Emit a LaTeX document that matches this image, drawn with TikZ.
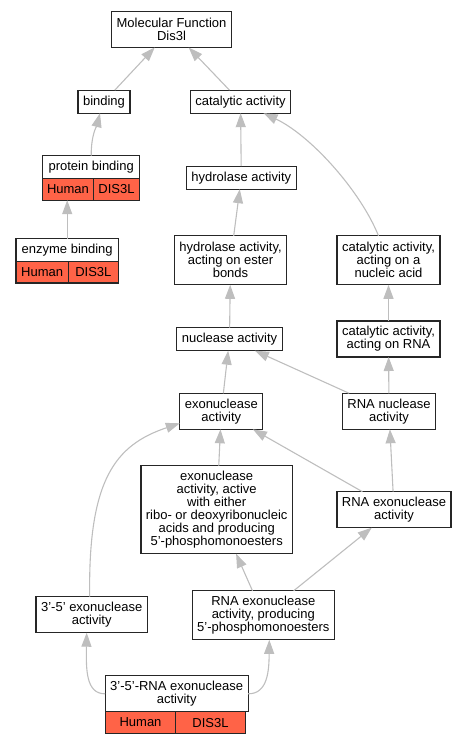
\documentclass[tikz,border=0pt]{standalone}
\usepackage{fontspec}
\setmainfont{Liberation Sans}
\usetikzlibrary{arrows.meta}
\definecolor{annot}{RGB}{255,99,71}
\definecolor{linkgray}{RGB}{190,190,190}

\begin{document}
\begin{tikzpicture}[x=1pt,y=-1pt,
  term/.style={draw=black!85,line width=1.3pt,fill=white,align=center,
    font=\fontsize{13}{13}\selectfont,inner xsep=5pt,inner ysep=0pt,outer sep=0pt},
  lines/.style={minimum height=#1*13pt+10pt},
  cell/.style={draw=black!85,line width=1.3pt,fill=annot,anchor=north west,
    font=\fontsize{13}{13}\selectfont,inner sep=0pt,outer sep=0pt,minimum height=21.5pt},
  link/.style={color=linkgray,line width=1.1pt,-{Triangle[length=14pt,width=10pt]}}]
\useasboundingbox (0,0) rectangle (465,744);
\node[term,lines=2] (mf) at (171.5,29.5) {Molecular Function\\Dis3l};
\node[term,lines=1] (bd) at (104,101.7) {binding};
\node[term,lines=1] (ca) at (240.5,101.7) {catalytic activity};
%
\node[term,lines=1,minimum width=97pt] (pb) at (91.2,167.2) {protein binding};
\node[cell,minimum width=50.6pt] (pbh) at (pb.south west) {Human};
\node[cell,minimum width=46.4pt] (pbd) at (pbh.north east) {DIS3L};
\node[term,lines=1,minimum width=102.3pt] (eb) at (67.2,250) {enzyme binding};
\node[cell,minimum width=52.3pt] (ebh) at (eb.south west) {Human};
\node[cell,minimum width=50pt] (ebd) at (ebh.north east) {DIS3L};
%
\node[term,lines=1] (hy) at (241.3,177.7) {hydrolase activity};
\node[term,lines=3] (he) at (230.5,260.3) {hydrolase activity,\\acting on ester\\bonds};
\node[term,lines=3] (cna) at (388.5,260.3) {catalytic activity,\\acting on a\\nucleic acid};
\node[term,lines=1] (nu) at (229.5,339.2) {nuclease activity};
\node[term,lines=2] (crna) at (388.5,339) {catalytic activity,\\acting on RNA};
%%
\node[term,lines=2] (ex) at (221.3,411.3) {exonuclease\\activity};
\node[term,lines=2] (rnu) at (389,411.3) {RNA nuclease\\activity};
\node[term,lines=6] (exa) at (216.7,509.7) {exonuclease\\activity, active\\with either\\ribo- or deoxyribonucleic\\acids and producing\\5'-phosphomonoesters};
\node[term,lines=2] (rx) at (394,509.7) {RNA exonuclease\\activity};
\node[term,lines=2] (t35) at (91.7,614.7) {3'-5' exonuclease\\activity};
\node[term,lines=3] (rxp) at (263.3,615.3) {RNA exonuclease\\activity, producing\\5'-phosphomonoesters};
%
\node[term,lines=2,minimum width=140pt] (rna) at (176.7,693.8) {3'-5'-RNA exonuclease\\activity};
\node[cell,minimum width=70.6pt] (rnah) at (rna.south west) {Human};
\node[cell,minimum width=69.4pt] (rnad) at (rnah.north east) {DIS3L};
%%
\path[link] (bd) edge (mf) (ca) edge (mf) (hy) edge (ca) (he) edge (hy)
 (nu) edge (he) (crna) edge (cna) (ex) edge (nu) (rnu) edge (nu)
 (rnu) edge (crna) (exa) edge (ex) (rx) edge (ex) (rx) edge (rnu)
 (rxp) edge (exa) (rxp) edge (rx);
\draw[link] (eb.north) -- (eb.north |- pbh.south);
\draw[link] (pb.north) .. controls (91,135) and (97,125) .. ([xshift=-4pt]bd.south);
\draw[link] ([xshift=-10pt]cna.north) .. controls (360,190) and (310,135) .. ([xshift=23pt]ca.south);
\draw[link] ([xshift=-2pt]t35.north) .. controls (88,480) and (115,445) .. ([yshift=-12pt]ex.west);
\draw[link] (rna.west) .. controls (86,694) and (86,670) .. ([xshift=-5pt]t35.south);
\draw[link] (rna.east) .. controls (268,694) and (269,670) .. ([xshift=6pt]rxp.south);
\end{tikzpicture}
\end{document}
